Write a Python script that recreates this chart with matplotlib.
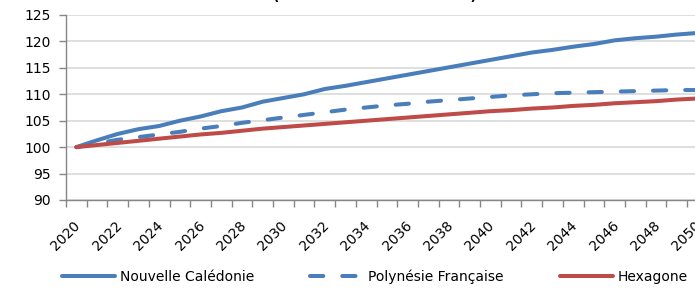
import numpy as np
import matplotlib
matplotlib.use("Agg")
import matplotlib.pyplot as plt
import matplotlib.transforms as mtransforms

# data (index base 100 in 2020)
years = list(range(2020, 2051))
nouvelle_caledonie = [100.0, 101.3, 102.5, 103.4, 104.0, 105.0, 105.8, 106.8, 107.5, 108.6,
                      109.3, 110.0, 111.0, 111.6, 112.3, 113.0, 113.7, 114.4, 115.1, 115.8,
                      116.5, 117.2, 117.9, 118.4, 119.0, 119.5, 120.2, 120.6, 120.9, 121.3,
                      121.6]
polynesie = [100.0, 100.7, 101.4, 101.9, 102.4, 102.9, 103.5, 104.0, 104.6, 105.1,
             105.6, 106.1, 106.6, 107.1, 107.5, 107.9, 108.2, 108.6, 108.9, 109.2,
             109.5, 109.8, 110.0, 110.2, 110.3, 110.4, 110.5, 110.6, 110.7, 110.8,
             110.8]
hexagone = [100.0, 100.4, 100.8, 101.2, 101.6, 102.0, 102.4, 102.7, 103.1, 103.5,
            103.8, 104.1, 104.4, 104.7, 105.0, 105.3, 105.6, 105.9, 106.2, 106.5,
            106.8, 107.0, 107.3, 107.5, 107.8, 108.0, 108.3, 108.5, 108.7, 109.0,
            109.2]
labels = ["Nouvelle Calédonie", "Polynésie Française", "Hexagone"]
title = "(Indice base 100 en 2020)"

plt.rcParams['font.family'] = ['DejaVu Sans']
plt.rcParams['font.size'] = 10

fig = plt.figure(figsize=(6.95, 2.9), dpi=100)
ax = fig.add_axes([66 / 695, 1 - 200 / 290, 641.7 / 695, 185 / 290])

blue = '#4A7EBB'
red = '#BE4B48'
x = np.arange(len(years))
ax.plot(x, nouvelle_caledonie, color=blue, lw=2.9, solid_capstyle='round',
        solid_joinstyle='round', label=labels[0], zorder=3)
ax.plot(x, polynesie, color=blue, lw=2.9, dashes=(3.3, 4.7), dash_capstyle='round',
        label=labels[1], zorder=3)
ax.plot(x, hexagone, color=red, lw=2.9, solid_capstyle='round',
        label=labels[2], zorder=3)

ax.set_xlim(-0.5, len(years) - 0.5)
ax.set_ylim(90, 125)
ax.set_yticks(np.arange(90, 126, 5))
ax.yaxis.grid(True, color='#D9D9D9', lw=1.2)
ax.set_axisbelow(True)

# category axis: tick marks between categories, labels every two years
ax.set_xticks(np.arange(-0.5, len(years), 1))
ax.set_xticklabels([])
ax.set_xticks(x[::2], minor=True)
ax.set_xticklabels([str(y) for y in years[::2]], minor=True)
ax.tick_params(axis='x', which='major', length=5, color='#868686', width=1)
ax.tick_params(axis='x', which='minor', length=0, pad=17, labelsize=10)
ax.tick_params(axis='y', length=5, color='#868686', width=1, pad=6, labelsize=10)
offset = mtransforms.ScaledTranslation(2 / 100, 0, fig.dpi_scale_trans)
for t in ax.get_xticklabels(minor=True):
    t.set_rotation(45)
    t.set_rotation_mode('anchor')
    t.set_ha('right')
    t.set_va('center')
    t.set_transform(t.get_transform() + offset)

for s in ['top', 'right']:
    ax.spines[s].set_visible(False)
for s in ['left', 'bottom']:
    ax.spines[s].set_color('#868686')
    ax.spines[s].set_linewidth(1)

fig.text(0.54, 1.0, title, ha='center', va='baseline', fontsize=10, fontweight='bold')

fig.legend(loc='center left', bbox_to_anchor=(62 / 695, 1 - 277 / 290), ncol=3,
           frameon=False, borderpad=0, borderaxespad=0, handlelength=3.8,
           handletextpad=0.36, columnspacing=4.05, fontsize=10)

fig.savefig('out.png', dpi=100)
